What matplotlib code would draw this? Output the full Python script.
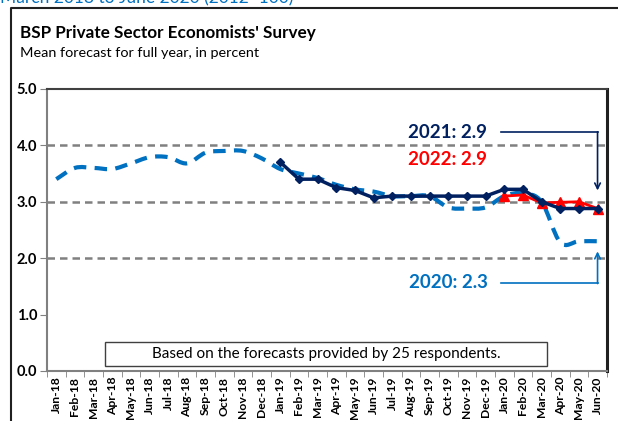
import matplotlib
matplotlib.use("Agg")
import matplotlib.pyplot as plt
from matplotlib.path import Path
from matplotlib.patches import PathPatch, Rectangle
import numpy as np

plt.rcParams["font.family"] = ["Lato", "DejaVu Sans"]

months = ["Jan-18", "Feb-18", "Mar-18", "Apr-18", "May-18", "Jun-18", "Jul-18", "Aug-18",
          "Sep-18", "Oct-18", "Nov-18", "Dec-18", "Jan-19", "Feb-19", "Mar-19", "Apr-19",
          "May-19", "Jun-19", "Jul-19", "Aug-19", "Sep-19", "Oct-19", "Nov-19", "Dec-19",
          "Jan-20", "Feb-20", "Mar-20", "Apr-20", "May-20", "Jun-20"]

f2020 = [3.4, 3.6, 3.6, 3.58, 3.68, 3.79, 3.79, 3.68, 3.87, 3.9, 3.9, 3.77,
         3.58, 3.5, 3.42, 3.3, 3.22, 3.18, 3.1, 3.1, 3.1, 2.9, 2.88, 2.9,
         3.1, 3.15, 3.0, 2.28, 2.3, 2.3]
f2021 = [3.7, 3.4, 3.4, 3.25, 3.2, 3.07, 3.1, 3.1, 3.1, 3.1, 3.1, 3.1,
         3.22, 3.22, 3.0, 2.88, 2.88, 2.88]
f2022 = [3.1, 3.12, 2.98, 2.99, 3.0, 2.88]

navy = "#002060"
blue = "#0070C0"
red = "#FF0000"


def smooth_path(xs, ys):
    # Excel-like smoothed line: Catmull-Rom segments as cubic Bezier
    pts = np.column_stack([xs, ys])
    verts = [pts[0]]
    codes = [Path.MOVETO]
    n = len(pts)
    for i in range(n - 1):
        p0 = pts[max(i - 1, 0)]
        p1 = pts[i]
        p2 = pts[i + 1]
        p3 = pts[min(i + 2, n - 1)]
        c1 = p1 + (p2 - p0) / 6.0
        c2 = p2 - (p3 - p1) / 6.0
        verts += [c1, c2, p2]
        codes += [Path.CURVE4] * 3
    return Path(verts, codes)


fig = plt.figure(figsize=(6.18, 4.21), dpi=100)
ax = fig.add_axes([0.076, 0.1188, 0.906, 0.67])

x = np.arange(len(months))

for g in [2.0, 3.0, 4.0]:
    ax.axhline(g, color="#808080", lw=1.8, ls=(0, (3, 2)), zorder=1)

patch = PathPatch(smooth_path(x, f2020), fill=False, edgecolor=blue, lw=3,
                  linestyle=(0, (3, 2)), zorder=2, capstyle="butt")
ax.add_patch(patch)

x21 = x[12:]
ax.plot(x21, f2021, color=navy, lw=2.5, marker="D", ms=4.5, zorder=4)
x22 = x[24:]
ax.plot(x22, f2022, color=red, lw=2, marker="^", ms=7, zorder=3)

ax.set_xlim(-0.5, len(months) - 0.5)
ax.set_ylim(0, 5)
ax.set_yticks([0, 1, 2, 3, 4, 5])
ax.set_yticklabels(["%.1f" % v for v in [0, 1, 2, 3, 4, 5]], fontweight="bold", fontsize=10.5)
ax.set_xticks(x)
ax.set_xticklabels(months, rotation=90, fontweight="bold", fontsize=8.7)
ax.set_xticks(np.arange(len(months) + 1) - 0.5, minor=True)
ax.tick_params(axis="x", which="major", length=0, pad=4)
ax.tick_params(axis="x", which="minor", length=4, color="#808080")
ax.tick_params(axis="y", length=5, color="#808080", pad=2)

for s in ["left", "bottom"]:
    ax.spines[s].set_color("#808080")
    ax.spines[s].set_linewidth(1.5)
ax.spines["top"].set_color("#404040")
ax.spines["top"].set_linewidth(1.5)
ax.spines["right"].set_color("#202020")
ax.spines["right"].set_linewidth(2.2)

# labels with arrows
ax.text(23.1, 4.23, "2021: 2.9", color=navy, fontsize=13.5, fontweight="bold",
        ha="right", va="center")
ax.text(23.1, 3.74, "2022: 2.9", color=red, fontsize=13.5, fontweight="bold",
        ha="right", va="center")
ax.text(23.1, 1.56, "2020: 2.3", color=blue, fontsize=13.5, fontweight="bold",
        ha="right", va="center")
ax.plot([23.85, 29], [4.23, 4.23], color=navy, lw=1.2)
ax.annotate("", xy=(29, 3.2), xytext=(29, 4.24),
            arrowprops=dict(arrowstyle="->", color=navy, lw=1.2, shrinkA=0, shrinkB=0))
ax.plot([23.85, 29], [1.56, 1.56], color=blue, lw=1.2)
ax.annotate("", xy=(29, 2.12), xytext=(29, 1.55),
            arrowprops=dict(arrowstyle="->", color=blue, lw=1.2, shrinkA=0, shrinkB=0))

ax.add_patch(Rectangle((2.6, 0.09), 23.7, 0.42, fill=False, edgecolor="#404040", lw=1, zorder=5))
ax.text(14.45, 0.3, "Based on the forecasts provided by 25 respondents.", fontsize=11,
        ha="center", va="center", zorder=6)

# header texts and outer frame
fig.text(0.0, 1.0 - 3 / 421, "March 2018 to June 2020 (2012=100)", color=blue, fontsize=12.5,
         ha="left", va="baseline")
fig.text(20 / 618, 1 - 38 / 421, "BSP Private Sector Economists' Survey", fontsize=12.3,
         fontweight="bold", ha="left", va="baseline")
fig.text(20 / 618, 1 - 57 / 421, "Mean forecast for full year, in percent", fontsize=10.4,
         ha="left", va="baseline")
fig.add_artist(plt.Line2D([11 / 618, 11 / 618, 1.0], [0, 1 - 8 / 421, 1 - 8 / 421],
                          color="#202020", lw=1.5, transform=fig.transFigure))

fig.savefig("out.png", dpi=100)
